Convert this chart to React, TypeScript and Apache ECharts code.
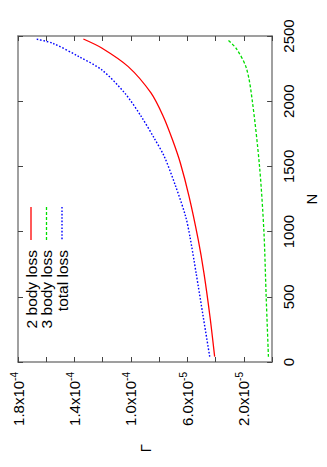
import React, { useEffect, useRef } from "react";
import * as echarts from "echarts";

// ---- data ----
const seriesNames = ["2 body loss", "3 body loss", "total loss"];
const seriesColors = ["#ff0000", "#00dd00", "#0000ff"];

const twoBodyN = [41, 347, 683, 936, 1268, 1526, 1702, 1881, 2063, 2265, 2408, 2477];
const twoBodyGamma = [4.07e-5, 4.40e-5, 4.83e-5, 5.23e-5, 5.88e-5, 6.50e-5, 7.05e-5, 7.70e-5, 8.58e-5, 1.019e-4, 1.207e-4, 1.337e-4];

const threeBodyN = [41, 500, 1000, 1500, 2000, 2250, 2400, 2477];
const threeBodyGamma = [2.6e-6, 4.2e-6, 5.8e-6, 8.9e-6, 1.40e-5, 1.81e-5, 2.51e-5, 3.2e-5];

const totalN = [41, 347, 680, 949, 1114, 1344, 1574, 1716, 1881, 2060, 2239, 2341, 2444, 2477];
const totalGamma = [4.42e-5, 4.88e-5, 5.38e-5, 5.80e-5, 6.12e-5, 6.82e-5, 7.63e-5, 8.35e-5, 9.26e-5, 1.042e-4, 1.205e-4, 1.367e-4, 1.554e-4, 1.674e-4];

// Gamma tick labels (in units of 1e-5: index k)
const gammaLabelK = [2, 6, 10, 14, 18];
const gammaLabelMantissa = ["2.0", "6.0", "1.0", "1.4", "1.8"];
const gammaLabelExp = ["-5", "-5", "-4", "-4", "-4"];

const FONT = "'Liberation Sans', Arial, Helvetica, sans-serif";

function zip(xs: number[], ys: number[]) {
  return xs.map((n, i) => [ys[i], n]);
}

export default function App() {
  const ref = useRef<HTMLDivElement>(null);
  useEffect(() => {
    if (!ref.current) return;
    const chart = echarts.init(ref.current, null, { renderer: "svg" });

    const axisLine = { show: true, onZero: false, lineStyle: { color: "#808080", width: 1.5 } };
    const axisTick = { show: true, inside: true, length: 5, lineStyle: { color: "#444", width: 1 } };

    const gammaFormatter = (v: number) => {
      const k = Math.round(v / 1e-5);
      const i = gammaLabelK.indexOf(k);
      if (i < 0) return "";
      return `{a|${gammaLabelMantissa[i]}x10}{s|${gammaLabelExp[i]}}`;
    };

    const lineStyles = [
      { color: seriesColors[0], width: 1.3, type: "solid" as any },
      { color: seriesColors[1], width: 1.3, type: [3, 2] as any },
      { color: seriesColors[2], width: 1.4, type: [1.6, 1.8] as any },
    ];
    const dataSets = [zip(twoBodyN, twoBodyGamma), zip(threeBodyN, threeBodyGamma), zip(totalN, totalGamma)];

    const legendX = [31, 46.5, 62];
    const legendGraphics: any[] = [];
    seriesNames.forEach((name, i) => {
      legendGraphics.push({
        type: "line",
        shape: { x1: legendX[i], y1: 207, x2: legendX[i], y2: 240 },
        style: { stroke: seriesColors[i], lineWidth: lineStyles[i].width, lineDash: Array.isArray(lineStyles[i].type) ? lineStyles[i].type : null },
      });
      legendGraphics.push({
        type: "text",
        x: legendX[i],
        y: 250,
        rotation: Math.PI / 2,
        style: {
          text: name,
          fontSize: 15.5,
          fontFamily: FONT,
          fill: "#000",
          align: "right",
          verticalAlign: "middle",
        },
      });
    });

    chart.setOption({
      animation: false,
      grid: { left: 18, right: 51, top: 36, bottom: 105, show: false },
      xAxis: [
        {
          type: "value",
          position: "bottom",
          min: 0,
          max: 1.8e-4,
          interval: 2e-5,
          inverse: true,
          name: "Γ",
          nameLocation: "middle",
          nameRotate: 90,
          nameGap: 82,
          nameTextStyle: { fontSize: 15, fontFamily: FONT, color: "#000" },
          axisLine,
          axisTick,
          splitLine: { show: false },
          axisLabel: {
            rotate: 90,
            margin: 10,
            color: "#000",
            formatter: gammaFormatter,
            rich: {
              a: { fontSize: 15, fontFamily: FONT, color: "#000", lineHeight: 18 },
              s: { fontSize: 10, fontFamily: FONT, color: "#000", lineHeight: 10, verticalAlign: "top" },
            },
          },
        },
        {
          type: "value",
          position: "top",
          min: 0,
          max: 1.8e-4,
          interval: 2e-5,
          inverse: true,
          axisLine,
          axisTick,
          axisLabel: { show: false },
          splitLine: { show: false },
        },
      ],
      yAxis: [
        {
          type: "value",
          position: "right",
          min: 0,
          max: 2500,
          interval: 500,
          name: "N",
          nameLocation: "middle",
          nameRotate: 90,
          nameGap: 9,
          nameTextStyle: { fontSize: 15, fontFamily: FONT, color: "#000" },
          axisLine,
          axisTick,
          splitLine: { show: false },
          axisLabel: {
            rotate: 90,
            margin: 9,
            fontSize: 15,
            fontFamily: FONT,
            color: "#000",
            formatter: (v: number) => String(v),
          },
        },
        {
          type: "value",
          position: "left",
          min: 0,
          max: 2500,
          interval: 500,
          axisLine,
          axisTick,
          axisLabel: { show: false },
          splitLine: { show: false },
        },
      ],
      series: seriesNames.map((name, i) => ({
        name,
        type: "line",
        xAxisIndex: 0,
        yAxisIndex: 0,
        data: dataSets[i],
        showSymbol: false,
        symbol: "none",
        smooth: 0.3,
        lineStyle: lineStyles[i],
      })),
      graphic: legendGraphics,
    });

    return () => chart.dispose();
  }, []);

  return (
    <div
      ref={ref}
      style={{ position: "fixed", left: 0, top: 0, width: 327, height: 467, background: "#fff" }}
    />
  );
}
